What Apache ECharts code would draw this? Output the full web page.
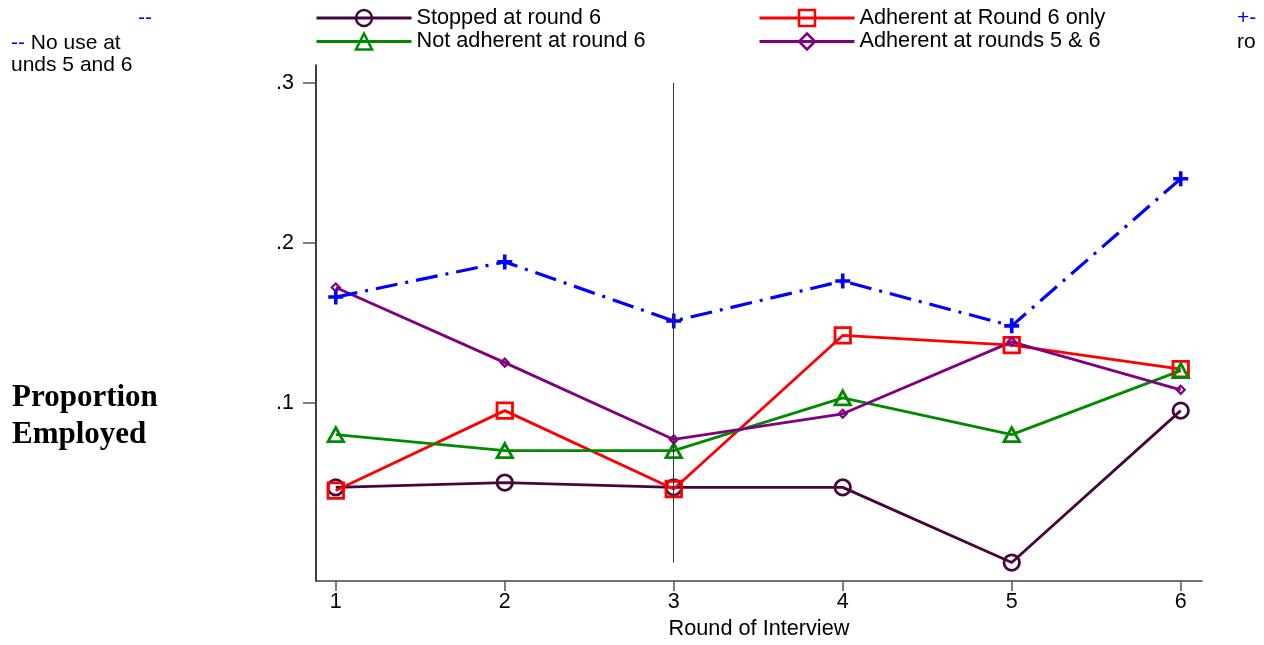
<!DOCTYPE html>
<html>
<head>
<meta charset="utf-8">
<title>Proportion Employed by Round of Interview</title>
<script src="https://cdn.jsdelivr.net/npm/echarts@6/dist/echarts.min.js"></script>
<style>
  html, body { margin: 0; padding: 0; background: #fff; }
  #chart { width: 1264px; height: 645px; }
</style>
</head>
<body>
<div id="chart"></div>
<script>
// Interview rounds (x) and proportion employed per group (y)
const rounds = [1, 2, 3, 4, 5, 6];
const stoppedR6   = [0.047, 0.050, 0.047, 0.047, 0.000, 0.095];
const adherentR6  = [0.045, 0.095, 0.046, 0.142, 0.136, 0.121];
const notAdherent = [0.080, 0.070, 0.070, 0.103, 0.080, 0.120];
const adherentR56 = [0.172, 0.125, 0.077, 0.093, 0.138, 0.108];
const noUseR56    = [0.166, 0.188, 0.151, 0.176, 0.148, 0.240];

const yTicks = [0.1, 0.2, 0.3];
const yTickLabels = ['.1', '.2', '.3'];
const markRound = 3;

const FONT = '"Liberation Sans", Arial, sans-serif';
const pairs = ys => rounds.map((r, i) => [r, ys[i]]);

const PLUS = 'path://M3.8,0H6.2V3.8H10V6.2H6.2V10H3.8V6.2H0V3.8H3.8Z';

function lineSeries(name, ys, color, symbol, size, extra) {
  return Object.assign({
    name: name,
    type: 'line',
    data: pairs(ys),
    symbol: symbol,
    symbolSize: size,
    showAllSymbol: true,
    lineStyle: { color: color, width: 2.8 },
    itemStyle: { color: 'rgba(255,255,255,0)', borderColor: color, borderWidth: 2.8 },
    emphasis: { disabled: true },
    animation: false
  }, extra || {});
}

const legendBase = {
  orient: 'vertical', top: 7, padding: 0,
  itemWidth: 95, itemHeight: 20, itemGap: 1.5,
  lineStyle: { width: 3 },
  itemStyle: { borderWidth: 2.5 },
  textStyle: { fontFamily: FONT, fontSize: 21.7, color: '#000', lineHeight: 20 },
  selectedMode: false
};

const chart = echarts.init(document.getElementById('chart'), null, { renderer: 'canvas' });

chart.setOption({
  animation: false,
  backgroundColor: '#fff',
  grid: { left: 316, right: 62, top: 65, bottom: 63.5, containLabel: false },
  legend: [
    Object.assign({}, legendBase, { left: 315, data: ['Stopped at round 6', 'Not adherent at round 6'] }),
    Object.assign({}, legendBase, { left: 758, data: ['Adherent at Round 6 only', 'Adherent at rounds 5 & 6'] })
  ],
  xAxis: {
    type: 'value',
    min: 0.883, max: 6.126,
    name: 'Round of Interview',
    nameLocation: 'middle',
    nameGap: 31,
    nameTextStyle: { fontFamily: FONT, fontSize: 21.7, color: '#000' },
    axisLine: { show: true, onZero: false, lineStyle: { color: '#444', width: 1.5 } },
    axisTick: { show: true, length: 10, customValues: rounds, lineStyle: { color: '#555', width: 1.5 } },
    axisLabel: { customValues: rounds, margin: 10, fontFamily: FONT, fontSize: 21.5, color: '#000',
                 formatter: v => String(Math.round(v)) },
    splitLine: { show: false }
  },
  yAxis: {
    type: 'value',
    min: -0.0116, max: 0.3111,
    axisLine: { show: true, onZero: false, lineStyle: { color: '#000', width: 1.5 } },
    axisTick: { show: true, length: 13, customValues: yTicks, lineStyle: { color: '#555', width: 1.5 } },
    axisLabel: { customValues: yTicks, margin: 22, fontFamily: FONT, fontSize: 21.5, color: '#000',
                 formatter: v => yTickLabels[yTicks.findIndex(t => Math.abs(t - v) < 1e-6)] || '' },
    splitLine: { show: false }
  },
  series: [
    lineSeries('Stopped at round 6', stoppedR6, '#44073d', 'circle', 15.5, {
      markLine: {
        silent: true,
        symbol: ['none', 'none'],
        label: { show: false },
        lineStyle: { color: '#333', width: 1, type: 'solid' },
        data: [[{ coord: [markRound, 0] }, { coord: [markRound, 0.3] }]]
      }
    }),
    lineSeries('Adherent at Round 6 only', adherentR6, '#ff0000', 'rect', 15.5),
    lineSeries('Not adherent at round 6', notAdherent, '#008a00', 'triangle', [15.5, 14]),
    lineSeries('Adherent at rounds 5 & 6', adherentR56, '#800080', 'diamond', 8, {
      itemStyle: { color: 'rgba(255,255,255,0)', borderColor: '#800080', borderWidth: 2.2 }
    }),
    lineSeries('No use at rounds 5 and 6', noUseR56, '#0000ff', PLUS, 15, {
      lineStyle: { color: '#0000ff', width: 3.2, type: [22, 8, 3, 8] },
      itemStyle: { color: '#0000ff', borderWidth: 0 }
    })
  ],
  graphic: [
    {
      type: 'text', left: 12, top: 379,
      style: {
        text: 'Proportion\nEmployed',
        font: 'bold 31px "Liberation Serif", "Times New Roman", serif',
        lineHeight: 37, fill: '#000'
      }
    },
    {
      type: 'text', left: 138, top: 8,
      style: { text: '--', font: '21px ' + FONT, fill: '#0000ff' }
    },
    {
      type: 'text', left: 11, top: 32,
      style: {
        text: '{b|--} No use at\nunds 5 and 6',
        font: '21px ' + FONT, fill: '#000', lineHeight: 22,
        rich: { b: { fill: '#0000ff', font: '21px ' + FONT } }
      }
    },
    {
      type: 'text', left: 1237, top: 8,
      style: { text: '+-', font: '21px ' + FONT, fill: '#0000ff' }
    },
    {
      type: 'text', left: 1237, top: 32,
      style: { text: 'ro', font: '21px ' + FONT, fill: '#000' }
    }
  ]
});
</script>
</body>
</html>
